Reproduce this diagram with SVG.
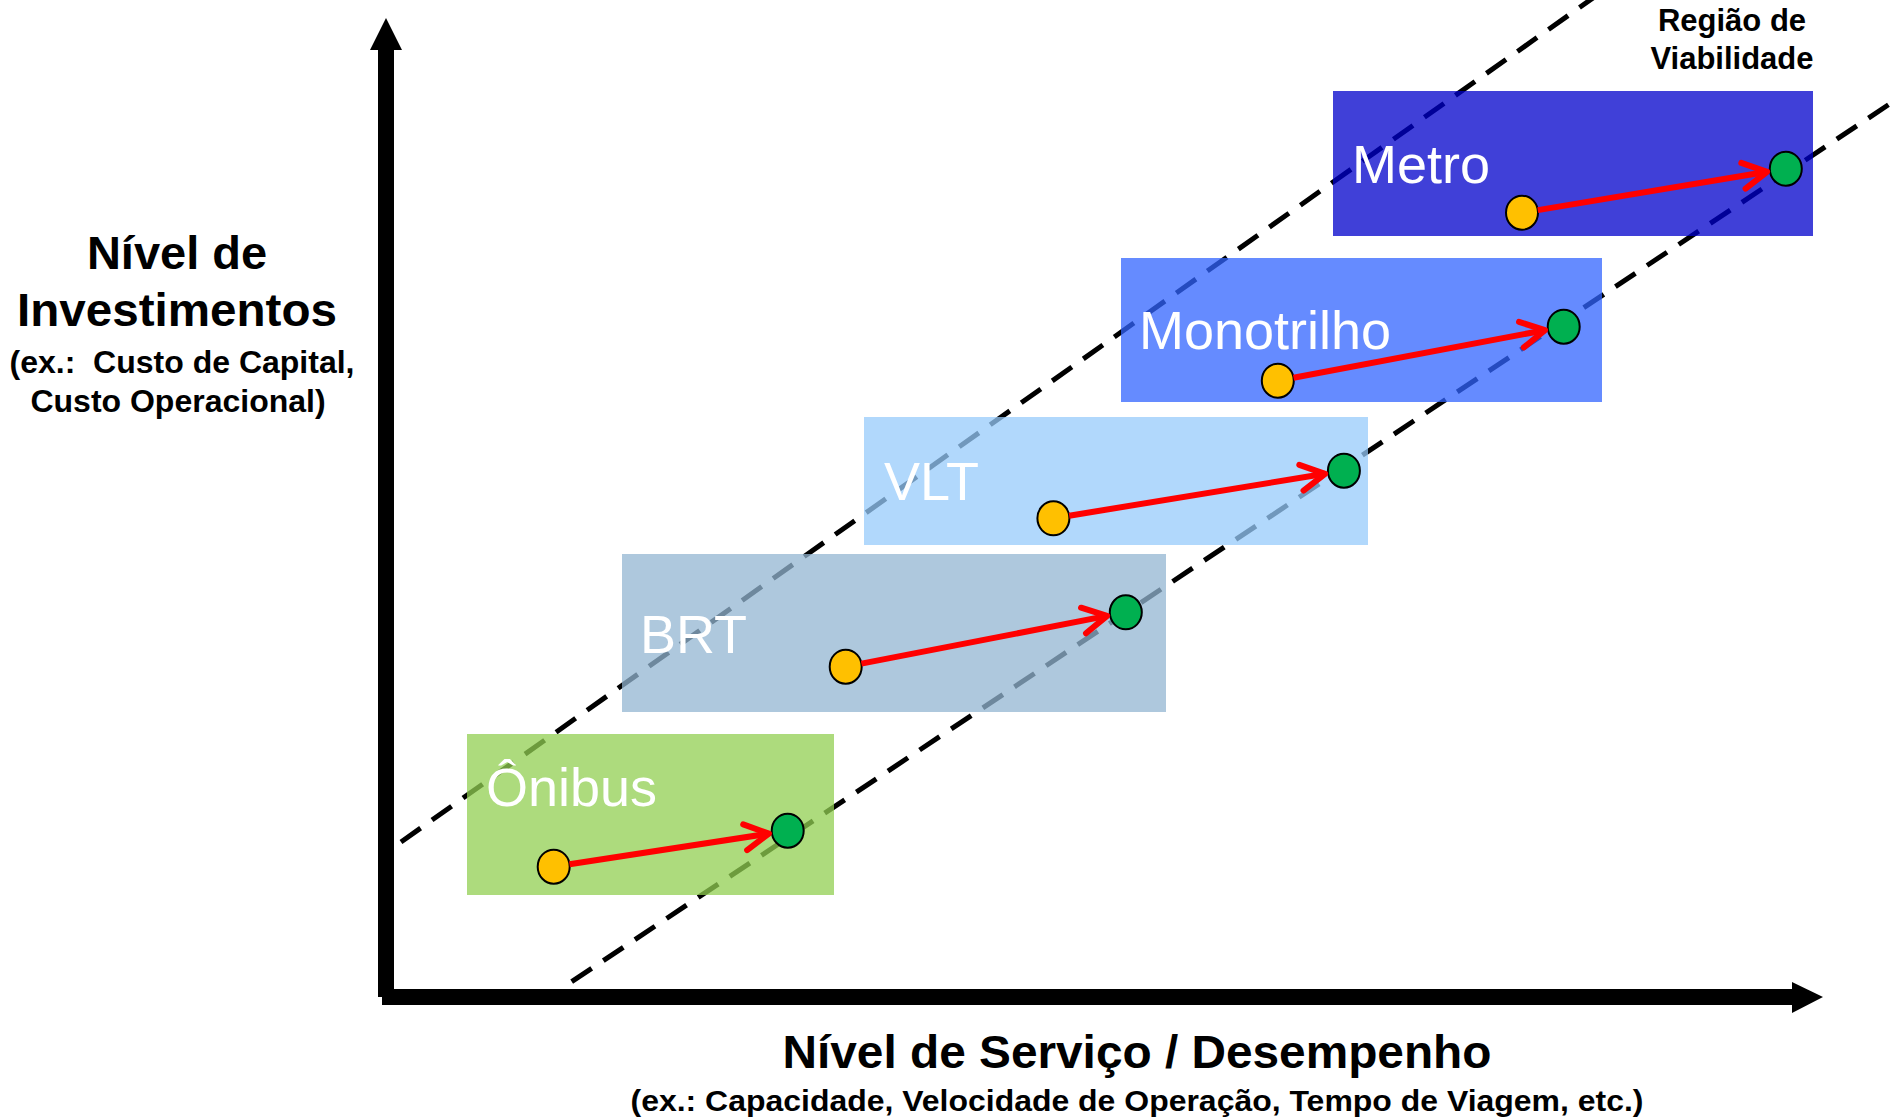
<svg xmlns="http://www.w3.org/2000/svg" width="1895" height="1120" viewBox="0 0 1895 1120">
<style>
.box{fill-opacity:0.75}
.lbl{font-family:"Liberation Sans",Arial,sans-serif;font-size:54px;fill:#ffffff}
.ttl{font-family:"Liberation Sans",Arial,sans-serif;font-weight:bold;fill:#000000;text-anchor:middle}
.dash{stroke:#000000;stroke-width:5;stroke-dasharray:24 14;fill:none}
.arr{stroke:#ff0000;stroke-width:6;fill:none;marker-end:url(#ah)}
.o{fill:#ffc000;stroke:#000000;stroke-width:2}
.g{fill:#00b050;stroke:#000000;stroke-width:2}
</style>
<defs>
<marker id="ah" markerUnits="userSpaceOnUse" markerWidth="40" markerHeight="40" refX="0" refY="0" orient="auto" style="overflow:visible">
<path d="M-24,-13 L0,0 L-24,13" fill="none" stroke="#ff0000" stroke-width="6" stroke-linecap="round" stroke-linejoin="round"/>
</marker>
</defs>
<rect width="1895" height="1120" fill="#ffffff"/>
<g id="axes">
<line x1="386" y1="997" x2="386" y2="48" stroke="#000" stroke-width="16"/>
<polygon points="370,50 386,18 402,50" fill="#000"/>
<line x1="382" y1="997" x2="1794" y2="997" stroke="#000" stroke-width="16"/>
<polygon points="1792,982 1823,997 1792,1013" fill="#000"/>
</g>
<g id="viability-lines">
<line class="dash" x1="401" y1="842" x2="1600" y2="-7"/>
<line class="dash" x1="571.7" y1="981.7" x2="1892" y2="102.4"/>
</g>
<g id="onibus">
<rect class="box" x="467" y="734" width="367" height="161" fill="#91cf51"/>
<text class="lbl" x="486" y="806">Ônibus</text>
<ellipse class="o" cx="553.7" cy="866.7" rx="16" ry="17"/>
<ellipse class="g" cx="787.7" cy="830.7" rx="16" ry="17"/>
</g>
<g id="brt">
<rect class="box" x="622" y="554" width="544" height="158" fill="#93b5d1"/>
<text class="lbl" x="640" y="653">BRT</text>
<ellipse class="o" cx="845.7" cy="666.7" rx="16" ry="17"/>
<ellipse class="g" cx="1125.8" cy="612.3" rx="16" ry="17"/>
</g>
<g id="vlt">
<rect class="box" x="864" y="417" width="504" height="128" fill="#97cbfb"/>
<text class="lbl" x="884" y="500">VLT</text>
<ellipse class="o" cx="1053.4" cy="518.3" rx="16" ry="17"/>
<ellipse class="g" cx="1343.9" cy="470.7" rx="16" ry="17"/>
</g>
<g id="monotrilho">
<rect class="box" x="1121" y="258" width="481" height="144" fill="#3264ff"/>
<text class="lbl" x="1139" y="349">Monotrilho</text>
<ellipse class="o" cx="1277.8" cy="380.7" rx="16" ry="17"/>
<ellipse class="g" cx="1563.7" cy="326.7" rx="16" ry="17"/>
</g>
<g id="metro">
<rect class="box" x="1333" y="91" width="480" height="145" fill="#0000cb"/>
<text class="lbl" x="1352" y="183">Metro</text>
<ellipse class="o" cx="1522" cy="212.7" rx="16" ry="17"/>
<ellipse class="g" cx="1785.8" cy="168.7" rx="16" ry="17"/>
</g>
<g id="connectors">
<line class="arr" x1="569.5" y1="864.3" x2="768.9" y2="833.6"/>
<line class="arr" x1="861.4" y1="663.6" x2="1107.1" y2="615.9"/>
<line class="arr" x1="1069.2" y1="515.7" x2="1325.1" y2="473.8"/>
<line class="arr" x1="1293.5" y1="377.7" x2="1545.0" y2="330.2"/>
<line class="arr" x1="1537.8" y1="210.1" x2="1767.1" y2="171.8"/>
</g>
<g id="y-title">
<text class="ttl" x="177" y="269" font-size="47">Nível de</text>
<text class="ttl" x="177" y="326" font-size="47" textLength="320" lengthAdjust="spacingAndGlyphs">Investimentos</text>
<text class="ttl" x="182" y="373" font-size="32" xml:space="preserve">(ex.:  Custo de Capital,</text>
<text class="ttl" x="178" y="412" font-size="32">Custo Operacional)</text>
</g>
<g id="x-title">
<text class="ttl" x="1137" y="1068" font-size="46" textLength="709" lengthAdjust="spacingAndGlyphs">Nível de Serviço / Desempenho</text>
<text class="ttl" x="1137" y="1111" font-size="29" textLength="1013" lengthAdjust="spacingAndGlyphs">(ex.: Capacidade, Velocidade de Operação, Tempo de Viagem, etc.)</text>
</g>
<g id="region-label">
<text class="ttl" x="1732" y="31" font-size="31">Região de</text>
<text class="ttl" x="1732" y="69" font-size="31">Viabilidade</text>
</g>
</svg>
